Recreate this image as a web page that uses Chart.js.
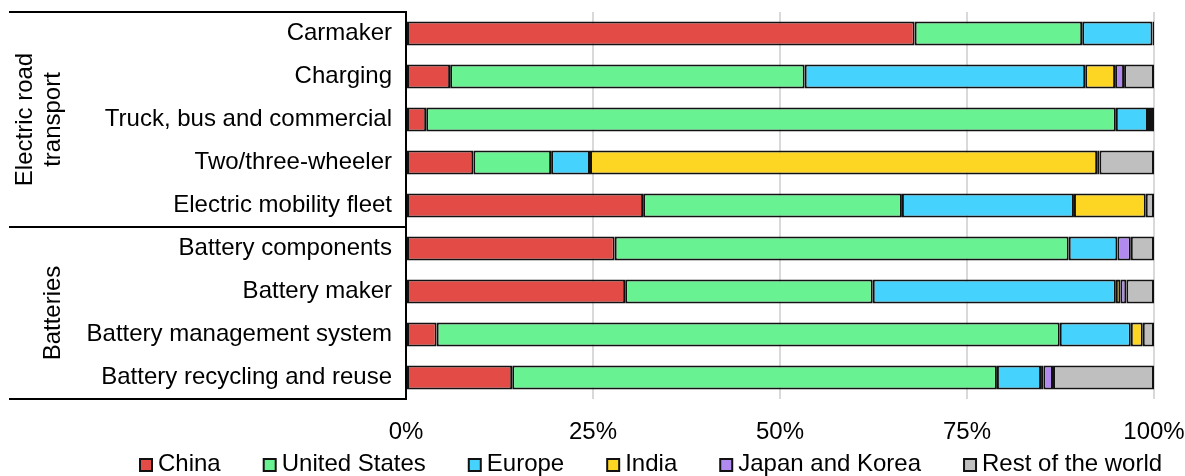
<!DOCTYPE html>
<html>
<head>
<meta charset="utf-8">
<script src="https://cdn.jsdelivr.net/npm/chart.js@4.4.0/dist/chart.umd.min.js"></script>
<style>
  body { margin: 0; background: #fff; }
</style>
</head>
<body>
<canvas id="chart" width="1185" height="476"></canvas>
<script>
// categories (top to bottom)
const categories = [
  'Carmaker', 'Charging', 'Truck, bus and commercial', 'Two/three-wheeler',
  'Electric mobility fleet', 'Battery components', 'Battery maker',
  'Battery management system', 'Battery recycling and reuse'
];

// share of companies by region, %
const china        = [68.0,  5.9,  2.7,  9.0, 31.7, 27.9, 29.3,  4.1, 14.2];
const unitedStates = [22.4, 47.4, 92.2, 10.4, 34.6, 60.7, 33.1, 83.3, 64.8];
const europe       = [ 9.4, 37.5,  4.3,  5.2, 23.0,  6.5, 32.5,  9.5,  5.9];
const india        = [ 0.0,  4.0,  0.4, 67.8,  9.6,  0.0,  0.6,  1.6,  0.3];
const japanKorea   = [ 0.0,  1.2,  0.0,  0.3,  0.0,  1.8,  0.8,  0.0,  1.3];
const restOfWorld  = [ 0.2,  4.0,  0.4,  7.3,  1.1,  3.1,  3.7,  1.5, 13.5];

const xTicks = [0, 25, 50, 75, 100];

// groups on the left
const groups = [
  { lines: ['Electric road', 'transport'], from: 0, to: 4 },
  { lines: ['Batteries'], from: 5, to: 8 }
];

const FONT = '"Liberation Sans", Arial, sans-serif';

function serie(label, data, color) {
  return {
    label: label,
    data: data,
    backgroundColor: color,
    borderColor: '#111',
    borderWidth: 2,
    borderSkipped: false,
    barPercentage: 0.56,
    categoryPercentage: 1
  };
}

function noPad(s) {
  s.paddingTop = 0;
  s.paddingBottom = 0;
  s.paddingLeft = 0;
  s.paddingRight = 0;
}

// lignes + libelles des groupes a gauche
const groupPlugin = {
  id: 'groups',
  afterDraw(chart) {
    const ctx = chart.ctx;
    const a = chart.chartArea;
    const y = chart.scales.y;
    ctx.save();
    ctx.strokeStyle = '#000';
    ctx.lineWidth = 2;
    const seps = [a.top, a.bottom];
    for (let i = 1; i < groups.length; i++) {
      seps.push((y.getPixelForValue(groups[i].from - 1) + y.getPixelForValue(groups[i].from)) / 2);
    }
    seps.forEach(py => {
      ctx.beginPath();
      ctx.moveTo(9, py);
      ctx.lineTo(a.left, py);
      ctx.stroke();
    });

    ctx.fillStyle = '#000';
    ctx.font = '24px ' + FONT;
    ctx.textAlign = 'center';
    ctx.textBaseline = 'middle';
    groups.forEach(g => {
      const top = g.from === 0 ? a.top : (y.getPixelForValue(g.from - 1) + y.getPixelForValue(g.from)) / 2;
      const bot = g.to === categories.length - 1 ? a.bottom : (y.getPixelForValue(g.to) + y.getPixelForValue(g.to + 1)) / 2;
      const cy = (top + bot) / 2;
      const n = g.lines.length;
      for (let j = 0; j < n; j++) {
        const cx = 53 - (n - 1 - j) * 28;
        ctx.save();
        ctx.translate(cx, cy);
        ctx.rotate(-Math.PI / 2);
        ctx.fillText(g.lines[j], 0, 0);
        ctx.restore();
      }
    });
    ctx.restore();
  }
};

// legende dessinee a la main
const legendPlugin = {
  id: 'customLegend',
  afterDraw(chart) {
    const ctx = chart.ctx;
    ctx.save();
    ctx.font = '24px ' + FONT;
    ctx.textBaseline = 'middle';
    ctx.textAlign = 'left';
    let x = 140;
    const yc = 465;
    chart.data.datasets.forEach(ds => {
      ctx.fillStyle = ds.backgroundColor;
      ctx.fillRect(x, yc - 6, 12, 12);
      ctx.strokeStyle = '#111';
      ctx.lineWidth = 2;
      ctx.strokeRect(x, yc - 6, 12, 12);
      ctx.fillStyle = '#000';
      ctx.fillText(ds.label, x + 18, yc - 1);
      x += 18 + ctx.measureText(ds.label).width + 43;
    });
    ctx.restore();
  }
};

new Chart(document.getElementById('chart'), {
  type: 'bar',
  data: {
    labels: categories,
    datasets: [
      serie('China', china, '#e34b47'),
      serie('United States', unitedStates, '#69f291'),
      serie('Europe', europe, '#45d3fd'),
      serie('India', india, '#fdd523'),
      serie('Japan and Korea', japanKorea, '#b08aee'),
      serie('Rest of the world', restOfWorld, '#bfbfbf')
    ]
  },
  options: {
    indexAxis: 'y',
    responsive: false,
    animation: false,
    devicePixelRatio: 1,
    layout: { padding: { top: 12, right: 31, bottom: 29, left: 0 } },
    plugins: {
      legend: { display: false },
      tooltip: { enabled: false }
    },
    scales: {
      x: {
        stacked: true,
        min: 0,
        max: 100,
        afterBuildTicks: s => { s.ticks = xTicks.map(v => ({ value: v })); },
        afterFit: s => { s.height = 48; noPad(s); },
        ticks: {
          color: '#000',
          font: { size: 24, family: FONT },
          padding: 19,
          maxRotation: 0,
          callback: v => v + '%'
        },
        grid: { color: '#d9d9d9', lineWidth: 2, drawTicks: false },
        border: { display: false }
      },
      y: {
        stacked: true,
        afterFit: s => { s.width = 406; noPad(s); },
        ticks: {
          color: '#000',
          font: { size: 24, family: FONT },
          padding: 14
        },
        grid: { display: false, drawTicks: false },
        border: { display: true, color: '#000', width: 2 }
      }
    }
  },
  plugins: [groupPlugin, legendPlugin]
});
</script>
</body>
</html>
